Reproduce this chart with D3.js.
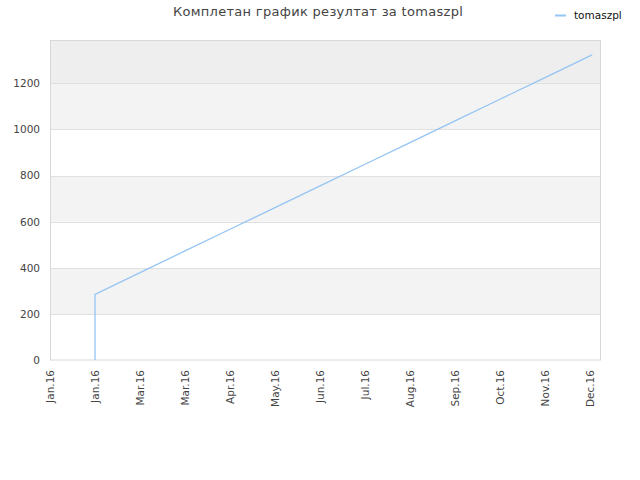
<!DOCTYPE html>
<html>
<head>
<meta charset="utf-8">
<script src="https://cdn.jsdelivr.net/npm/d3@7"></script>
<style>
  body { margin: 0; background: #fff; }
  svg { display: block; font-family: "DejaVu Sans", sans-serif; }
</style>
</head>
<body>
<div id="chart"></div>
<script>
const tickLabels = ["Jan.16", "Jan.16", "Mar.16", "Mar.16", "Apr.16", "May.16", "Jun.16",
  "Jul.16", "Aug.16", "Sep.16", "Oct.16", "Nov.16", "Dec.16"];
// x position in tick steps, cumulative score
const pointX = [1, 1, 2, 3, 4, 5, 6, 7, 8, 9, 10, 11, 12, 12.05];
const pointY = [0, 285, 379, 473, 567, 661, 755, 849, 943, 1037, 1131, 1225, 1319, 1324];
const yTicks = [0, 200, 400, 600, 800, 1000, 1200];
const seriesName = "tomaszpl";
const title = "Комплетан график резултат за tomaszpl";

const W = 640, H = 480;
const margin = { top: 40, right: 40, bottom: 120, left: 50 };
const width = W - margin.left - margin.right;
const height = H - margin.top - margin.bottom;

const svg = d3.select("#chart").append("svg")
  .attr("width", W).attr("height", H);

const g = svg.append("g")
  .attr("transform", "translate(" + margin.left + "," + margin.top + ")");

const x = d3.scaleLinear().domain([0, 550 / 45]).range([0, width]);
const y = d3.scaleLinear().domain([0, 1388]).range([height, 0]);

// background bands
const bands = [[0, 200, "#ffffff"], [200, 400, "#f3f3f3"], [400, 600, "#ffffff"],
  [600, 800, "#f3f3f3"], [800, 1000, "#ffffff"], [1000, 1200, "#f3f3f3"], [1200, 1388, "#eeeeee"]];
g.selectAll(".band").data(bands).enter().append("rect")
  .attr("x", 0).attr("width", width)
  .attr("y", d => y(d[1])).attr("height", d => y(d[0]) - y(d[1]))
  .attr("fill", d => d[2]);

// grid
g.selectAll(".grid").data(yTicks.slice(1)).enter().append("line")
  .attr("x1", 0).attr("x2", width)
  .attr("y1", d => Math.round(y(d)) + 0.5).attr("y2", d => Math.round(y(d)) + 0.5)
  .attr("stroke", "#e0e0e0");

g.append("rect")
  .attr("x", 0.5).attr("y", 0.5).attr("width", width).attr("height", height - 0.5)
  .attr("fill", "none").attr("stroke", "#d8d8d8");

// y axis
const yAxis = g.append("g")
  .call(d3.axisLeft(y).tickValues(yTicks).tickFormat(d3.format("d")).tickSize(0).tickPadding(10));
yAxis.select(".domain").remove();
yAxis.selectAll("text")
  .style("font-family", "DejaVu Sans").style("font-size", "10.5px").attr("fill", "#444");

// x axis
const xAxis = g.append("g")
  .attr("transform", "translate(0," + height + ")")
  .call(d3.axisBottom(x).tickValues(d3.range(tickLabels.length))
    .tickFormat(i => tickLabels[i]).tickSize(0));
xAxis.select(".domain").remove();
xAxis.selectAll("text")
  .style("font-family", "DejaVu Sans").style("font-size", "10.5px").attr("fill", "#444")
  .attr("transform", "rotate(-90)")
  .attr("text-anchor", "end")
  .attr("x", -10).attr("y", 0).attr("dy", "0.35em");

// line
const pts = pointX.map((d, i) => [d, pointY[i]]);
g.append("path")
  .datum(pts)
  .attr("fill", "none")
  .attr("stroke", "#95c5f3")
  .attr("stroke-width", 1.3)
  .attr("d", d3.line().x(d => x(d[0])).y(d => y(d[1])));

// title
svg.append("text")
  .attr("x", 318).attr("y", 16)
  .attr("text-anchor", "middle")
  .style("font-size", "13px").style("letter-spacing", "0.3px").attr("fill", "#444")
  .text(title);

// legend
svg.append("line")
  .attr("x1", 555).attr("x2", 566).attr("y1", 15.5).attr("y2", 15.5)
  .attr("stroke", "#95c5f3").attr("stroke-width", 2);
svg.append("text")
  .attr("x", 574).attr("y", 19)
  .style("font-size", "10.5px").attr("fill", "#111")
  .text(seriesName);
</script>
</body>
</html>
